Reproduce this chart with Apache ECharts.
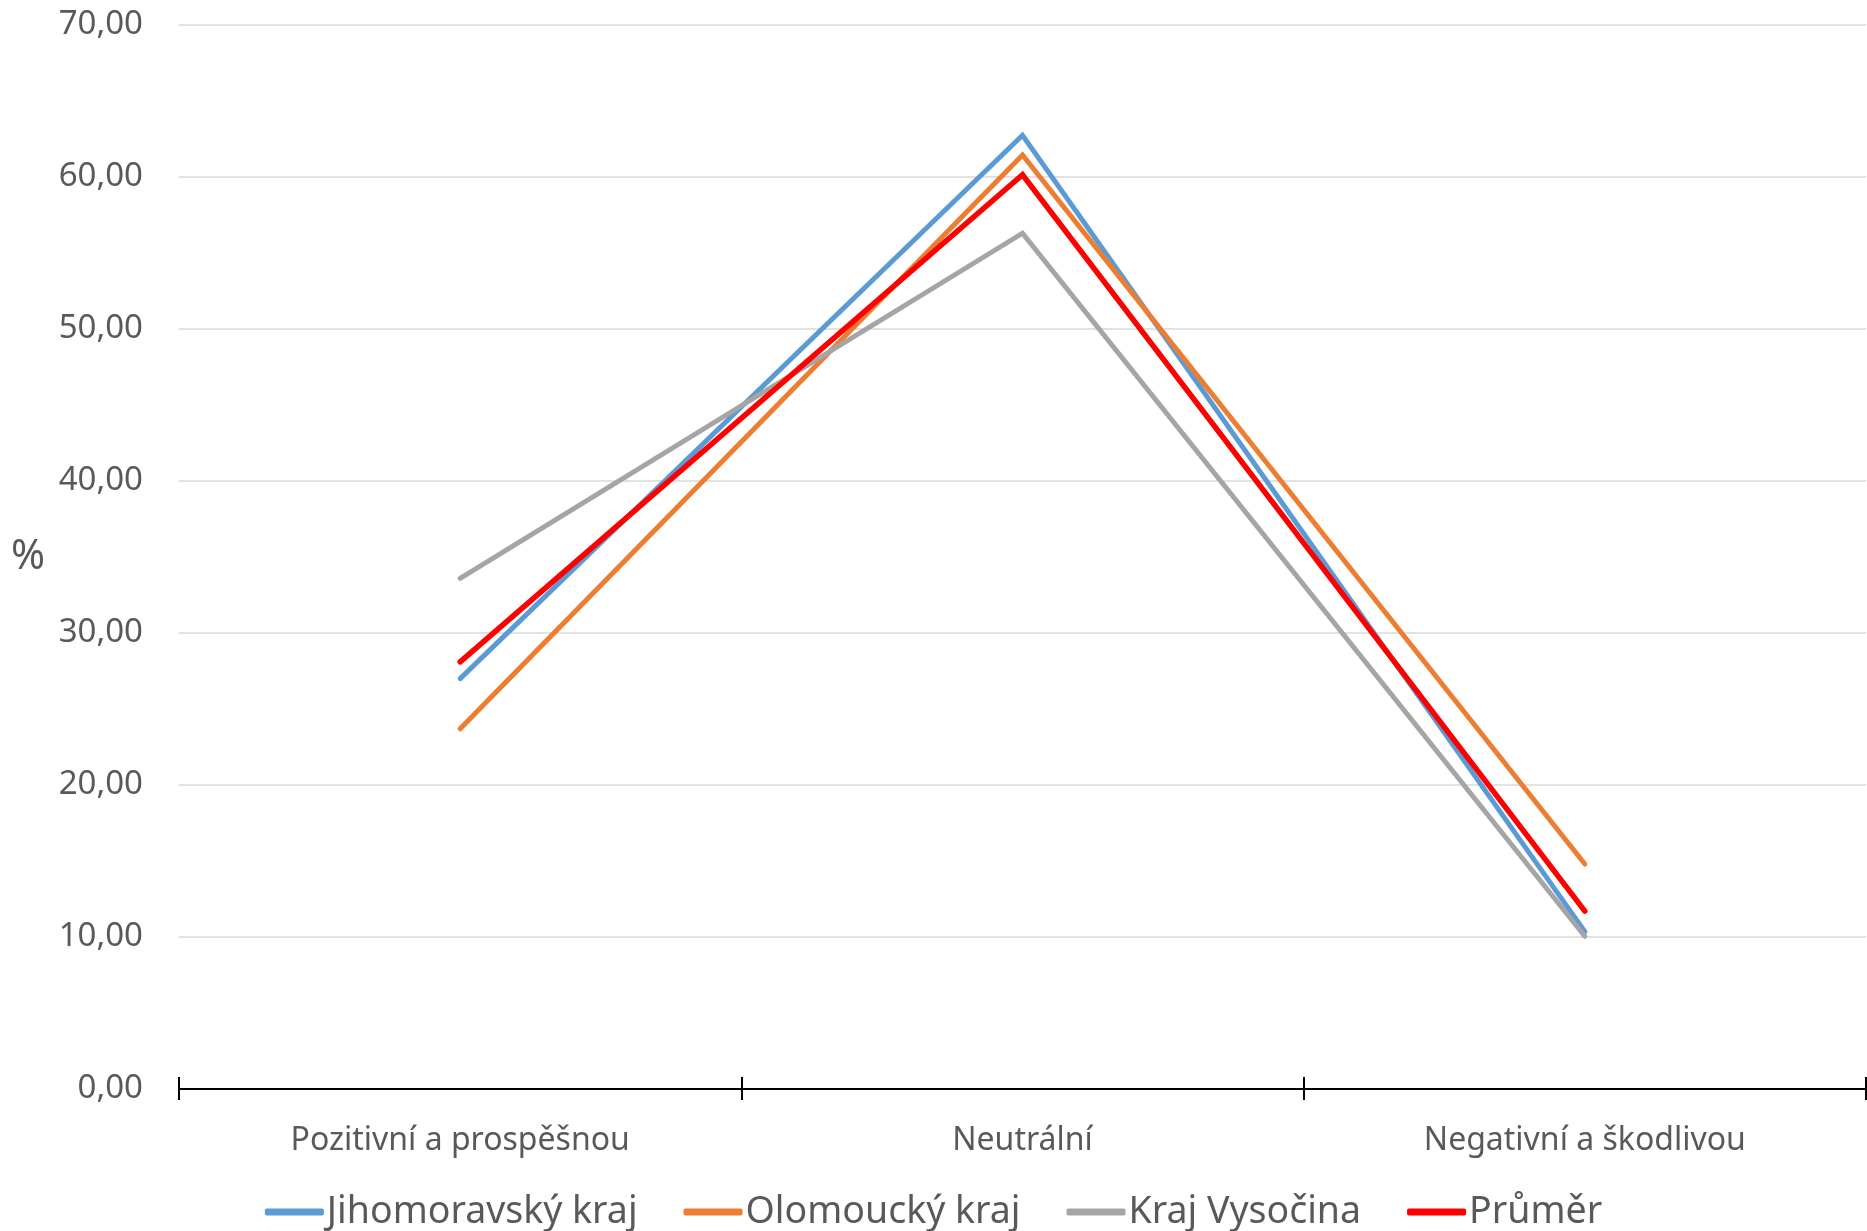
<!DOCTYPE html>
<html><head><meta charset="utf-8">
<script src="https://cdn.jsdelivr.net/npm/echarts@6/dist/echarts.min.js"></script>
<style>html,body{margin:0;padding:0;background:#fff}#c{width:1867px;height:1231px}</style>
</head><body><div id="c"></div>
<script>
const categories = ['Pozitivní a prospěšnou', 'Neutrální', 'Negativní a škodlivou'];
const seriesNames = ['Jihomoravský kraj', 'Olomoucký kraj', 'Kraj Vysočina', 'Průměr'];
const jihomoravsky = [27.0, 62.75, 10.35];
const olomoucky = [23.7, 61.45, 14.8];
const vysocina = [33.6, 56.3, 10.05];
const prumer = [28.1, 60.15, 11.7];
const yTicks = { min: 0, max: 70, interval: 10 };
const colors = ['#5B9BD5', '#ED7D31', '#A5A5A5', '#FF0000'];
const values = [jihomoravsky, olomoucky, vysocina, prumer];
const widths = [5, 5, 5, 5.5];

const chart = echarts.init(document.getElementById('c'));
const font = '"Noto Sans", "Open Sans", sans-serif';
chart.setOption({
  animation: false,
  grid: { left: 179, right: 1, top: 25, bottom: 142, containLabel: false },
  legend: {
    bottom: -5, left: 'center',
    itemWidth: 59, itemHeight: 7, itemGap: 46,
    icon: 'roundRect',
    textStyle: { fontSize: 37.5, color: '#595959', fontFamily: font, padding: [0, 0, 0, -2] },
    data: seriesNames
  },
  xAxis: [{
    type: 'category', data: categories, boundaryGap: true,
    axisLine: { lineStyle: { color: '#000', width: 2 } },
    axisTick: { show: true, length: 11, lineStyle: { color: '#000', width: 2 } },
    axisLabel: { fontSize: 32, color: '#595959', fontFamily: font, margin: 36 }
  }, {
    type: 'category', data: categories, boundaryGap: true, position: 'bottom',
    axisLine: { show: false },
    axisTick: { show: true, inside: true, length: 12, lineStyle: { color: '#000', width: 2 } },
    axisLabel: { show: false }
  }],
  yAxis: {
    type: 'value', min: yTicks.min, max: yTicks.max, interval: yTicks.interval,
    name: '%', nameLocation: 'middle', nameRotate: 0, nameGap: 134,
    nameTextStyle: { fontSize: 41, color: '#595959', fontFamily: font, padding: [14, 0, 0, 0] },
    axisLine: { show: false }, axisTick: { show: false },
    splitLine: { lineStyle: { color: '#D9D9D9', width: 1.5 } },
    axisLabel: { fontSize: 33, color: '#595959', fontFamily: font, margin: 36,
      formatter: v => v.toFixed(2).replace('.', ',') }
  },
  series: seriesNames.map((n, i) => ({
    name: n, type: 'line', data: values[i], showSymbol: false, symbol: 'none',
    lineStyle: { color: colors[i], width: widths[i], cap: 'round', join: 'miter' },
    itemStyle: { color: colors[i] }, z: 2 + i
  }))
});
</script></body></html>
